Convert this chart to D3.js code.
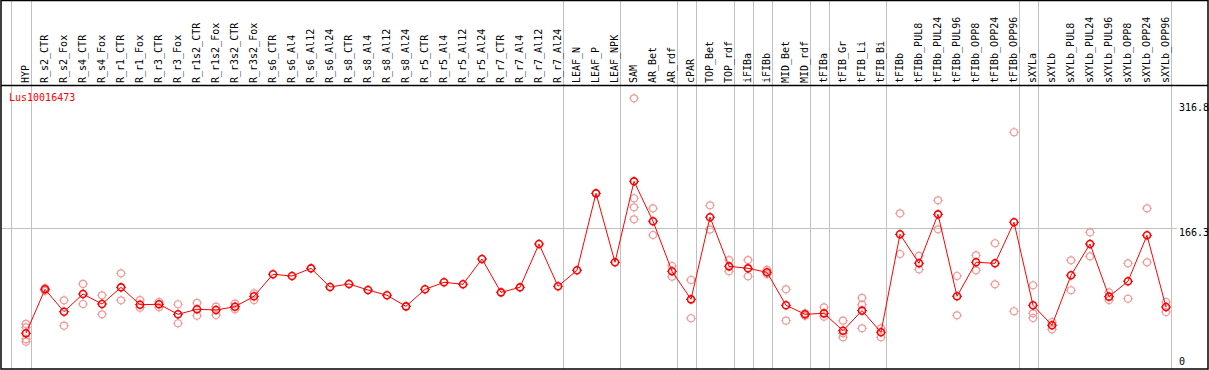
<!DOCTYPE html>
<html>
<head>
<meta charset="utf-8">
<script src="https://cdn.jsdelivr.net/npm/d3@7"></script>
<style>
	body { margin: 0; background: #fff; }
	text { font-family: "DejaVu Sans Mono", "Liberation Mono", monospace; font-size: 10px; }
</style>
</head>
<body>
<script>
var geneName = "Lus10016473";

var categories = ["HYP", "R_s2_CTR", "R_s2_Fox", "R_s4_CTR", "R_s4_Fox", "R_r1_CTR", "R_r1_Fox", "R_r3_CTR", "R_r3_Fox",
	"R_r1s2_CTR", "R_r1s2_Fox", "R_r3s2_CTR", "R_r3s2_Fox", "R_s6_CTR", "R_s6_Al4", "R_s6_Al12", "R_s6_Al24",
	"R_s8_CTR", "R_s8_Al4", "R_s8_Al12", "R_s8_Al24", "R_r5_CTR", "R_r5_Al4", "R_r5_Al12", "R_r5_Al24",
	"R_r7_CTR", "R_r7_Al4", "R_r7_Al12", "R_r7_Al24", "LEAF_N", "LEAF_P", "LEAF_NPK", "SAM", "AR_Bet", "AR_rdf",
	"cPAR", "TOP_Bet", "TOP_rdf", "iFIBa", "iFIBb", "MID_Bet", "MID_rdf", "tFIBa", "tFIB_Gr", "tFIB_Li", "tFIB_Bi",
	"tFIBb", "tFIBb_PUL8", "tFIBb_PUL24", "tFIBb_PUL96", "tFIBb_OPP8", "tFIBb_OPP24", "tFIBb_OPP96",
	"sXYLa", "sXYLb", "sXYLb_PUL8", "sXYLb_PUL24", "sXYLb_PUL96", "sXYLb_OPP8", "sXYLb_OPP24", "sXYLb_OPP96"];

var meanValues = [44.8, 95.7, 69.8, 90.3, 78.7, 98.0, 77.9, 78.4, 66.8,
	72.6, 71.8, 75.6, 87.6, 113.1, 111.1, 120.0, 98.4,
	101.9, 94.9, 88.8, 76.0, 95.7, 103.8, 101.5, 130.8,
	92.2, 98.0, 148.2, 99.2, 117.7, 206.8, 127.0, 220.7, 174.5, 116.6,
	84.1, 179.2, 122.3, 120.0, 115.4, 77.2, 66.8, 67.9, 47.8, 71.0, 46.0,
	159.4, 125.8, 182.5, 87.6, 127.0, 125.8, 173.3,
	77.2, 54.1, 111.9, 148.2, 87.2, 105.0, 158.2, 75.2];

// replicate values per category (empty = no replicates shown)
var replicateValues = [
	[55.6, 51.7, 38.0, 35.1], [94, 97], [83.0, 53.6], [101.9, 78.7], [88.8, 66.8], [114.2, 83.0], [83.3, 74.4], [81.0, 74.9], [78.4, 56.4],
	[79.9, 65.2], [75.6, 66.0], [79.1, 72.6], [91.1, 83.3], [], [], [], [],
	[], [], [], [], [], [], [], [],
	[], [], [], [], [], [], [], [316.8, 201.1, 190.6, 176.7], [189.5, 158.6], [122.7, 110.3],
	[106.5, 62.2], [192.9, 164.9], [129.6, 116.6], [129.6, 110.8], [118.1, 113.4], [95.7, 59.4], [65, 68], [74.9, 64.0], [59.4, 44.8, 40.2], [85.7, 77.9, 50.6], [50.6, 40.2],
	[183.7, 136.6], [134.3, 118.9], [198.7, 165.2], [111.1, 65.6], [135.1, 117.7], [149.0, 101.5], [277.5, 70.3],
	[100.4, 67.9, 62.5], [57.9, 49.4], [129.3, 94.6], [161.7, 133.9], [92.2, 83.3], [125.8, 84.8], [189.5, 127.0], [81.0, 69.4]];

var yTicks = [0, 166.3, 316.8];
var groupEnds = ["HYP", "R_r7_Al24", "LEAF_NPK", "AR_rdf", "cPAR", "TOP_rdf", "iFIBa", "iFIBb", "MID_rdf", "tFIBa", "tFIB_Bi", "tFIBb_OPP96", "sXYLa", "sXYLb_OPP96"];

function drawChart(){
	var width = 1209, height = 370;
	var headerBottom = 85, plotBottom = 369;

	var svg = d3.select("body").append("svg").attr("width", width).attr("height", height);

	var x = d3.scalePoint().domain(categories).range([26, 1166]);
	var y = d3.scaleLinear().domain([0, 316.8]).range([372, 98.3]);

	// group separators
	var sepX = [x(categories[0]) - x.step() + 4].concat(groupEnds.map(function(c){ return x(c) + 5; }));
	svg.selectAll("line.sep").data(sepX).enter().append("line")
		.attr("class", "sep")
		.attr("x1", function(d){ return Math.round(d) + 0.5; })
		.attr("x2", function(d){ return Math.round(d) + 0.5; })
		.attr("y1", 0).attr("y2", plotBottom)
		.style("stroke", "#c0c0c0").style("stroke-width", 1);

	// middle grid line
	svg.append("line")
		.attr("x1", 1).attr("x2", 1177)
		.attr("y1", Math.round(y(yTicks[1])) + 0.5).attr("y2", Math.round(y(yTicks[1])) + 0.5)
		.style("stroke", "#c0c0c0").style("stroke-width", 1);

	// frame
	svg.append("rect").attr("x", 1).attr("y", 0.5).attr("width", width - 2).attr("height", plotBottom - 0.5)
		.style("fill", "none").style("stroke", "#000").style("stroke-width", 1.5);
	svg.append("line").attr("x1", 1).attr("x2", width - 1).attr("y1", headerBottom + 0.5).attr("y2", headerBottom + 0.5)
		.style("stroke", "#000").style("stroke-width", 1.5);

	// category labels
	svg.selectAll("text.cat").data(categories).enter().append("text")
		.attr("class", "cat")
		.attr("transform", function(d){ return "translate(" + (x(d) + 3) + ",83) rotate(-90)"; })
		.style("fill", "#000")
		.text(function(d){ return d; });

	// y labels
	svg.selectAll("text.ylab").data(yTicks).enter().append("text")
		.attr("class", "ylab")
		.attr("x", 1179)
		.attr("y", function(d){ return Math.min(Math.max(y(d) + 8, 111), 365); })
		.style("fill", "#000")
		.text(function(d){ return d; });

	// gene name
	svg.append("text").attr("x", 9).attr("y", 101).style("fill", "#ff0000").text(geneName);

	// replicates
	var reps = [];
	replicateValues.forEach(function(list, i){
		list.forEach(function(v){ reps.push({cat: categories[i], value: v}); });
	});
	var repGroups = svg.selectAll("g.rep").data(reps).enter().append("g")
		.attr("class", "rep")
		.attr("transform", function(d){ return "translate(" + x(d.cat) + "," + y(d.value) + ")"; });
	drawMarker(repGroups, "#f09a9a", 1.2);

	// mean line
	var line = d3.line()
		.x(function(d, i){ return x(categories[i]); })
		.y(function(d){ return y(d); });
	svg.append("path").datum(meanValues).attr("d", line)
		.style("fill", "none").style("stroke", "#ff0000").style("stroke-width", 1);

	var meanGroups = svg.selectAll("g.mean").data(meanValues).enter().append("g")
		.attr("class", "mean")
		.attr("transform", function(d, i){ return "translate(" + x(categories[i]) + "," + y(d) + ")"; });
	drawMarker(meanGroups, "#ff0000", 1.6);
}

function drawMarker(sel, color, sw){
	sel.append("circle").attr("r", 3.5)
		.style("fill", "none").style("stroke", color).style("stroke-width", sw);
	var ticks = [[0, -3.5, 0, -5], [0, 3.5, 0, 5], [-3.5, 0, -5, 0], [3.5, 0, 5, 0]];
	ticks.forEach(function(t){
		sel.append("line").attr("x1", t[0]).attr("y1", t[1]).attr("x2", t[2]).attr("y2", t[3])
			.style("stroke", color).style("stroke-width", 1);
	});
}

drawChart();
</script>
</body>
</html>
